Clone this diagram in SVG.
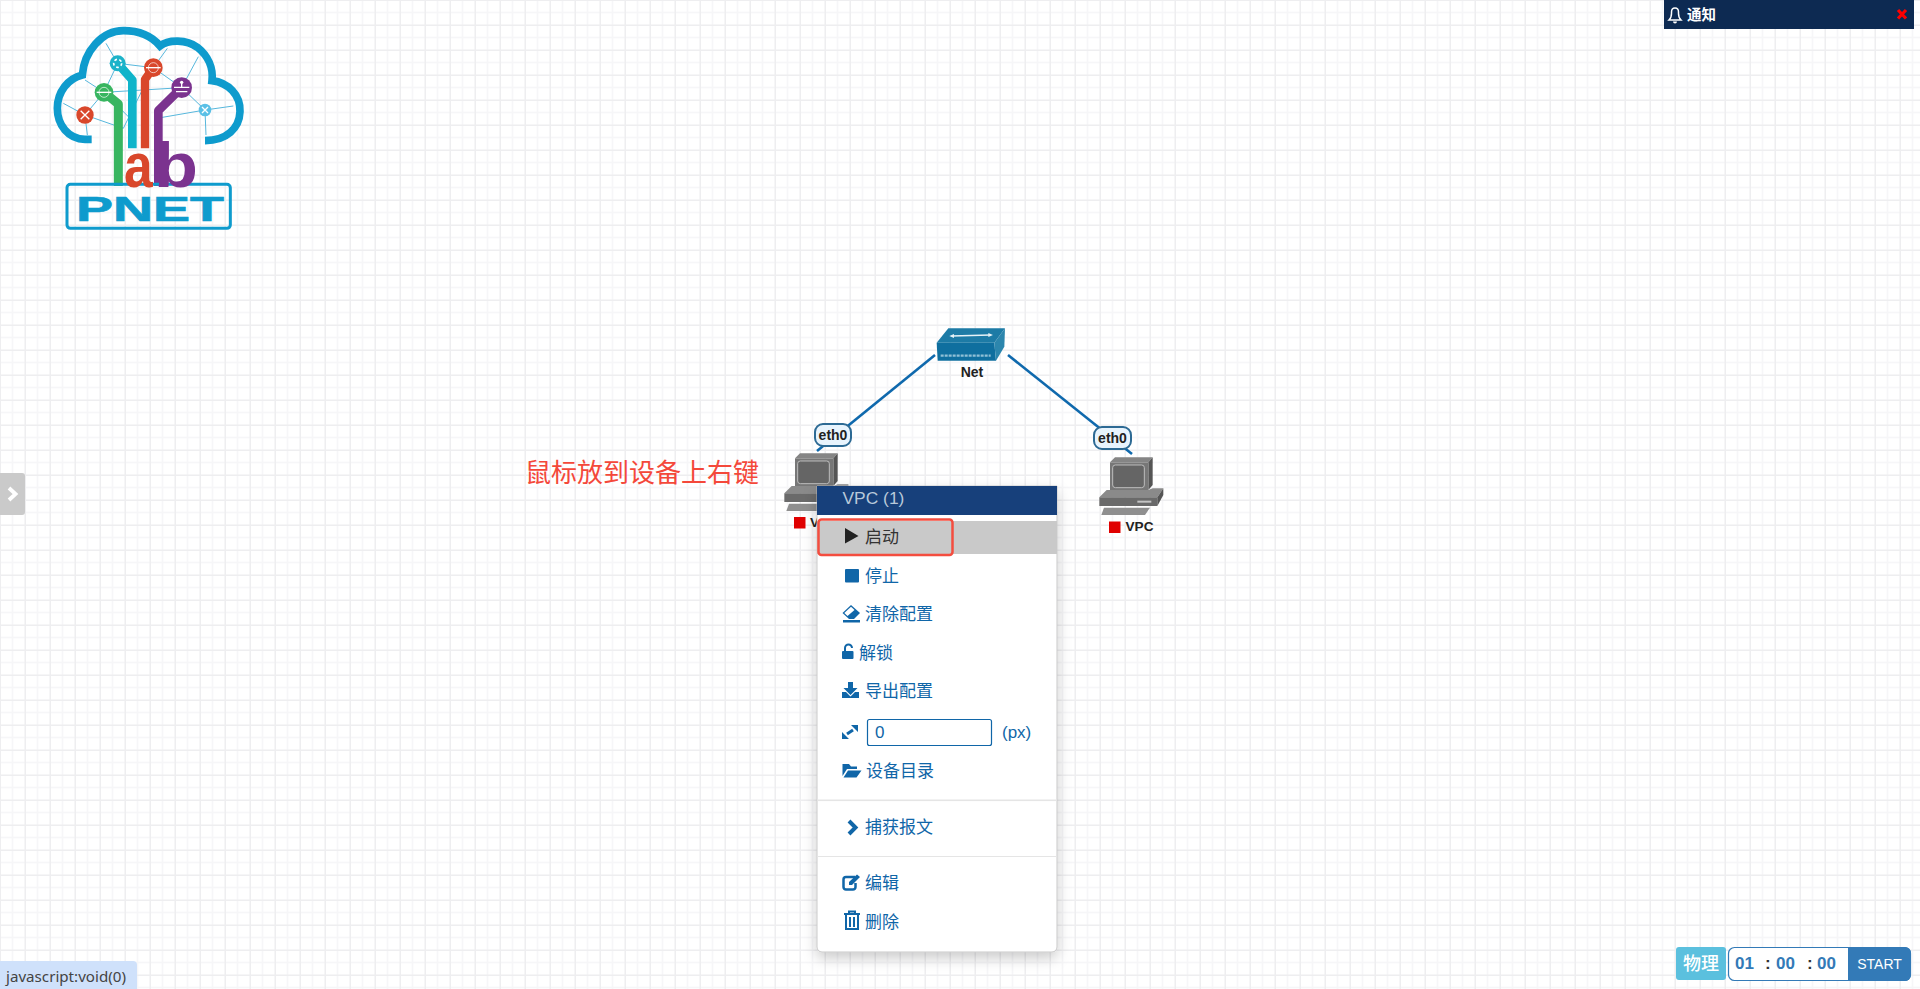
<svg xmlns="http://www.w3.org/2000/svg" width="1920" height="989" viewBox="0 0 1920 989">
<style>
.cjk{font-family:"Noto Sans CJK SC","Noto Sans",sans-serif}
.lat{font-family:"Liberation Sans",Arial,sans-serif}
.item{font-size:17px;fill:#1066a8}
.ic{fill:#1066a8}
.ics{fill:none;stroke:#1066a8}
.lab{font-size:14px;font-weight:700;fill:#222;text-anchor:middle}
.ifc{fill:#e8f4fd;stroke:#2d6a94;stroke-width:2}
.link{stroke:#0f69ad;stroke-width:2.6;fill:none}
.thin{stroke:#56b7dc;stroke-width:3;fill:none}
.trace{fill:none;stroke-linejoin:round}
.nw{stroke:#fff;stroke-width:4;fill:none}
.dig{font-size:17px;font-weight:700;fill:#337ab7}
.col{font-size:17px;font-weight:700;fill:#333}
</style>
<defs>
<pattern id="grid" width="25" height="25" patternUnits="userSpaceOnUse">
<rect width="25" height="25" fill="#fff"/>
<rect x="11.75" width="1.5" height="25" fill="#f6f6f8"/>
<rect y="11.75" width="25" height="1.5" fill="#f6f6f8"/>
<rect x="0" width="1" height="25" fill="#eeeef0"/><rect x="24.5" width=".5" height="25" fill="#eeeef0"/>
<rect y="0" width="25" height="1" fill="#eeeef0"/><rect y="24.5" width="25" height=".5" fill="#eeeef0"/>
</pattern>
<filter id="shadow" x="-20%" y="-10%" width="140%" height="125%">
<feDropShadow dx="0" dy="6" stdDeviation="7" flood-color="#000" flood-opacity=".2"/>
</filter>
<g id="pc">
<polygon points="90,127 105,112 218,112 205,127" fill="#858585"/>
<polygon points="205,127 218,112 218,195 205,210" fill="#555"/>
<rect x="90" y="127" width="115" height="83" fill="#777"/>
<rect x="98" y="135" width="95" height="68" rx="8" fill="#656565" stroke="#bdbdbd" stroke-width="3"/>
<polygon points="58,232 80,210 205,210 218,205 250,205 232,232" fill="#8a8a8a"/>
<polygon points="58,232 232,232 232,258 58,258" fill="#6a6a6a"/>
<polygon points="232,232 250,205 250,225 232,258" fill="#555"/>
<rect x="172" y="242" width="42" height="6" fill="#c4c4c4"/>
<polygon points="72,263 210,263 195,285 64,285" fill="#8f8f8f"/>
</g>
</defs>
<rect id="background" width="1920" height="989" fill="url(#grid)"/>

<g id="logo" transform="scale(.33333)">
<path class="thin" d="M255,345 L190,310 M255,345 L262,405 M255,345 L312,277 M255,345 L370,385 L460,203 M312,277 L255,240 M312,277 L353,190 M312,277 L545,263 M353,190 L318,130 M353,190 L460,203 M460,203 L502,145 M460,203 L545,263 M545,263 L595,170 M545,263 L615,330 M615,330 L700,318 M615,330 L618,405 M615,330 L470,355 M312,277 L385,350"/>
<path d="M275,418 H255 C205,418 172,375 172,325 C172,275 205,235 247,225 C252,155 305,92 370,92 C418,92 455,108 480,138 C505,118 560,118 592,142 C625,168 640,205 636,242 C685,248 722,285 720,335 C718,385 680,422 615,422" fill="none" stroke="#0e9bcd" stroke-width="23"/>
<path class="trace" d="M312,277 L355,312 V558" stroke="#38b560" stroke-width="27"/>
<path class="trace" d="M353,190 L397,240 V445" stroke="#0fb4ca" stroke-width="26"/>
<path class="trace" d="M460,203 L435,238 V445" stroke="#d9472b" stroke-width="25"/>
<path class="trace" d="M545,263 L475,332 V558" stroke="#7b338f" stroke-width="26"/>
<circle cx="255" cy="345" r="26" fill="#d9472b"/>
<circle cx="353" cy="190" r="24" fill="#1cb3c9"/>
<circle cx="460" cy="203" r="28" fill="#d9472b"/>
<circle cx="312" cy="277" r="28" fill="#38b560"/>
<circle cx="545" cy="263" r="31" fill="#7b338f"/>
<circle cx="615" cy="330" r="19" fill="#5bc0e6"/>
<path class="nw" d="M242,332 L268,358 M268,332 L242,358"/>
<circle cx="353" cy="190" r="12" fill="none" stroke="#fff" stroke-width="5" stroke-dasharray="8 7"/>
<path class="nw" d="M438,203 H482"/><circle cx="460" cy="203" r="15" fill="none" stroke="#fff" stroke-width="2"/>
<path class="nw" d="M290,277 H334"/><circle cx="312" cy="277" r="15" fill="none" stroke="#fff" stroke-width="2"/>
<path class="nw" d="M522,262 H568 M545,245 V262 M528,275 H562" /><circle cx="545" cy="247" r="5" fill="#fff"/>
<path class="nw" d="M606,321 L624,339 M624,321 L606,339"/>
<rect x="201" y="553" width="490" height="132" rx="10" fill="none" stroke="#0e9bcd" stroke-width="9"/>
<text class="lat" x="372" y="560" font-size="190" font-weight="700" fill="#d9472b" textLength="86" lengthAdjust="spacingAndGlyphs">a</text>
<text class="lat" x="462" y="560" font-size="190" font-weight="700" fill="#7b338f" textLength="132" lengthAdjust="spacingAndGlyphs">b</text>
<text class="lat" x="228" y="662" font-size="103" font-weight="700" fill="#0e9bcd" stroke="#0e9bcd" stroke-width="2" textLength="444" lengthAdjust="spacingAndGlyphs">PNET</text>
</g>

<g id="connectors">
<line class="link" x1="935" y1="355" x2="817" y2="451"/>
<line class="link" x1="1008" y1="355" x2="1132" y2="454"/>
</g>

<g id="node-net">
<g transform="translate(760,310) scale(.33333)">
<polygon points="565,55 735,55 703,98 530,98" fill="#1d7ba6"/>
<polygon points="530,98 703,98 708,152 533,152" fill="#0f6f9f"/>
<polygon points="703,98 735,55 733,110 708,152" fill="#2c86ad"/>
<path d="M575,78 L692,75" stroke="#e6f2f7" stroke-width="4" fill="none"/>
<path d="M568,78 L582,72 V84 Z M699,75 L685,69 V81 Z" fill="#e6f2f7"/>
<path d="M542,137 H692" stroke="#8fc0d6" stroke-width="7" stroke-dasharray="9 3" fill="none"/>
</g>
<text class="lat lab" x="972" y="377">Net</text>
</g>

<g id="node-vpc-left">
<use href="#pc" transform="translate(765,416) scale(.33333)"/>
<rect x="794" y="517" width="11.5" height="11.5" fill="#e00000"/>
<text class="lat" x="810" y="527" font-size="13.6" font-weight="700" fill="#222">VPC</text>
</g>

<g id="node-vpc-right">
<use href="#pc" transform="translate(1080,420) scale(.33333)"/>
<rect x="1109" y="521.5" width="11.5" height="11.5" fill="#e00000"/>
<text class="lat" x="1125.500" y="531" font-size="13.6" font-weight="700" fill="#222">VPC</text>
</g>

<g id="iface-left">
<rect class="ifc" x="815" y="424" width="36" height="22" rx="8"/>
<text class="lat lab" x="833" y="440">eth0</text>
</g>
<g id="iface-right">
<rect class="ifc" x="1094" y="427" width="37" height="22" rx="8"/>
<text class="lat lab" x="1112.500" y="443">eth0</text>
</g>

<g id="annotation">
<text class="cjk" x="525" y="482" font-size="26" fill="#f4483a">鼠标放到设备上右键</text>
</g>

<g id="context-menu">
<path d="M817,486 H1057 V947 a5,5 0 0 1 -5,5 H822 a5,5 0 0 1 -5,-5 Z" fill="#fff" stroke="#bbb" stroke-width=".8" filter="url(#shadow)"/>
<rect x="817" y="486" width="240" height="29" fill="#17407b"/>
<text class="lat" x="842.500" y="504" font-size="17.400" fill="#b9c9da">VPC (1)</text>
<rect x="817" y="521" width="240" height="33" fill="#c9c9c9"/>

<polygon points="845,528 858.500,536 845,543.500" fill="#222"/>
<text class="cjk item" x="865" y="543" style="fill:#333">启动</text>

<rect class="ic" x="845" y="569" width="14" height="13.500" rx="1"/>
<text class="cjk item" x="865" y="582">停止</text>

<path class="ic" d="M851,605 L860,613 L854,619 H849 L842.500,613 Z"/>
<path d="M851,606.800 L844.300,613 L847.500,616 L854.500,610 Z" fill="#fff"/>
<rect class="ic" x="843" y="620" width="17" height="2.500"/>
<text class="cjk item" x="865" y="620">清除配置</text>

<rect class="ic" x="842" y="651" width="11.500" height="8" rx="1"/>
<path class="ics" stroke-width="2" d="M845,651 V648 a3.500,3.500 0 0 1 7,0"/>
<text class="cjk item" x="859" y="659">解锁</text>

<path class="ic" d="M848,682 H853 V688 H857.500 L850.500,695 L843.500,688 H848 Z"/>
<path class="ic" d="M842,692 H846 L850.500,696.500 L855,692 H859 V698 H842 Z"/>
<text class="cjk item" x="865" y="697">导出配置</text>

<path class="ics" stroke-width="3" d="M847,734 L853,730"/>
<path class="ic" d="M851,725 H858 V732 Z M842,732 V739 H849 Z"/>
<rect x="867.500" y="719.500" width="124" height="26" rx="2" fill="#fff" stroke="#1066a8" stroke-width="1.200"/>
<text class="lat item" x="875" y="738">0</text>
<text class="lat item" x="1002" y="738">(px)</text>

<path class="ic" d="M842.500,764 H849 L851,766.500 H857 V769 H847 L842.500,776 Z M848,770.500 H861.500 L856.500,777.500 H843.500 Z"/>
<text class="cjk item" x="866" y="777">设备目录</text>

<rect x="817" y="799.500" width="240" height="1.600" fill="#e5e5e5"/>
<path class="ics" stroke-width="4" d="M849,821 L855.500,827.500 L849,834"/>
<text class="cjk item" x="865" y="833">捕获报文</text>

<rect x="817" y="856" width="240" height="1" fill="#e5e5e5"/>
<path class="ics" stroke-width="2.500" d="M855,877 H846 a2.500,2.500 0 0 0 -2.500,2.500 V887 a2.500,2.500 0 0 0 2.500,2.500 H853 a2.500,2.500 0 0 0 2.500,-2.500 V883"/>
<path class="ic" d="M849,882 L857,874.500 L860,877 L852,885 H849 Z"/>
<text class="cjk item" x="865" y="889">编辑</text>

<path class="ics" stroke-width="2" d="M844,914 H860 M849,914 V911.500 H855 V914"/>
<path class="ics" stroke-width="2" d="M846,915 V929 H858 V915 M850,917 V927 M854,917 V927"/>
<text class="cjk item" x="865" y="928">删除</text>

<rect x="818.500" y="519.500" width="134" height="35.500" rx="3" fill="none" stroke="#f44d3f" stroke-width="2.500"/>
</g>

<g id="notification">
<rect x="1664" y="0" width="250" height="29" fill="#0d2a52"/>
<path d="M1669,20 C1672,17 1671.500,15 1671.500,12 C1671.500,9.500 1673,8 1675,8 C1677,8 1678.500,9.500 1678.500,12 C1678.500,15 1678,17 1681,20 Z" fill="none" stroke="#fff" stroke-width="1.500"/>
<path d="M1673,21.500 a2,2 0 0 0 4,0 Z" fill="#fff"/>
<text class="cjk" x="1687" y="20" font-size="14.500" font-weight="700" fill="#fff">通知</text>
<path d="M1898,10 L1906,18.500 M1906,10 L1898,18.500" stroke="#ff0000" stroke-width="3.200" fill="none"/>
</g>

<g id="layout-toggle">
<rect x="1676" y="947" width="50" height="33" rx="3" fill="#5bc0de"/>
<text class="cjk" x="1701" y="970" font-size="18" font-weight="500" fill="#fff" text-anchor="middle">物理</text>
</g>

<g id="timer">
<rect x="1728.500" y="947.500" width="182" height="33" rx="6" fill="#fff" stroke="#337ab7" stroke-width="1.200"/>
<path d="M1848,947 H1905 a6,6 0 0 1 6,6 V975 a6,6 0 0 1 -6,6 H1848 Z" fill="#337ab7"/>
<text class="lat dig" x="1735" y="969">01</text>
<text class="lat col" x="1765" y="969">:</text>
<text class="lat dig" x="1776" y="969">00</text>
<text class="lat col" x="1807" y="969">:</text>
<text class="lat dig" x="1817" y="969">00</text>
<text class="lat" x="1879.500" y="969" font-size="14" fill="#fff" text-anchor="middle">START</text>
</g>

<g id="side-toggle">
<path d="M0,473 H22 a3,3 0 0 1 3,3 V512 a3,3 0 0 1 -3,3 H0 Z" fill="#cacaca"/>
<path d="M9,488 L15.500,494 L9,500" fill="none" stroke="#fff" stroke-width="3.800"/>
</g>

<g id="status-bar">
<path d="M0,961 H133 a4,4 0 0 1 4,4 V989 H0 Z" fill="#cfe1fb"/>
<text x="6" y="982" font-family="Noto Sans, sans-serif" font-size="15" fill="#444" textLength="120" lengthAdjust="spacingAndGlyphs">javascript:void(0)</text>
</g>
</svg>
